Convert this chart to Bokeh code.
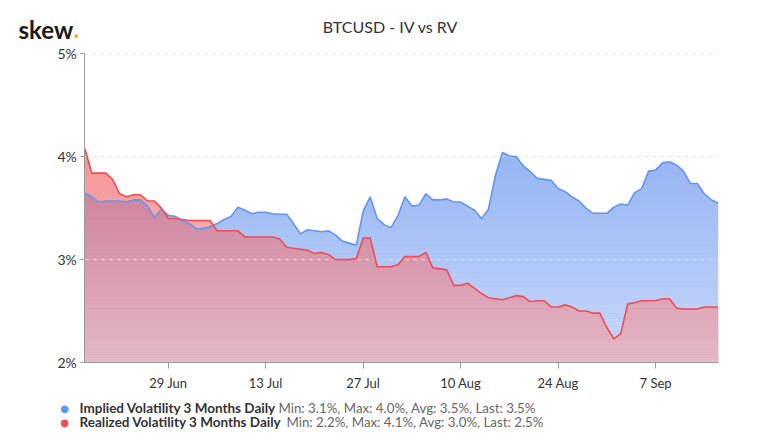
import numpy as np
import pandas as pd
from bokeh.plotting import figure
from bokeh.models import Range1d, FixedTicker, PrintfTickFormatter, Label
from bokeh.embed import file_html
from bokeh.resources import INLINE

# ---------------- data ----------------
dates = pd.date_range("2019-06-17", periods=92, freq="D")

iv = [3.645, 3.61, 3.56, 3.57, 3.57, 3.57, 3.56, 3.58, 3.58, 3.52,
      3.41, 3.49, 3.43, 3.42, 3.38, 3.35, 3.30, 3.30, 3.32, 3.35,
      3.39, 3.42, 3.51, 3.48, 3.445, 3.46, 3.46, 3.445, 3.44, 3.44,
      3.35, 3.25, 3.29, 3.28, 3.27, 3.28, 3.24, 3.18, 3.16, 3.14,
      3.47, 3.61, 3.40, 3.34, 3.31, 3.43, 3.61, 3.52, 3.53, 3.64,
      3.58, 3.58, 3.59, 3.56, 3.56, 3.52, 3.48, 3.40, 3.49, 3.82,
      4.04, 4.01, 4.00, 3.91, 3.855, 3.79, 3.78, 3.77, 3.69, 3.66,
      3.61, 3.57, 3.50, 3.45, 3.45, 3.45, 3.51, 3.54, 3.53, 3.65,
      3.69, 3.86, 3.87, 3.94, 3.95, 3.92, 3.86, 3.74, 3.74, 3.64,
      3.58, 3.55]

rv = [4.08, 3.84, 3.84, 3.84, 3.78, 3.64, 3.61, 3.63, 3.63, 3.57,
      3.57, 3.50, 3.40, 3.40, 3.39, 3.38, 3.38, 3.38, 3.38, 3.28,
      3.28, 3.28, 3.28, 3.22, 3.22, 3.22, 3.22, 3.22, 3.20, 3.12,
      3.11, 3.10, 3.09, 3.06, 3.07, 3.05, 3.00, 3.00, 3.00, 3.01,
      3.21, 3.21, 2.93, 2.93, 2.93, 2.95, 3.03, 3.03, 3.03, 3.07,
      2.92, 2.91, 2.90, 2.75, 2.75, 2.77, 2.72, 2.67, 2.63, 2.62,
      2.61, 2.63, 2.65, 2.64, 2.59, 2.60, 2.60, 2.54, 2.54, 2.56,
      2.54, 2.50, 2.50, 2.48, 2.48, 2.34, 2.23, 2.28, 2.57, 2.58,
      2.60, 2.60, 2.60, 2.62, 2.62, 2.53, 2.52, 2.52, 2.52, 2.54,
      2.54, 2.54]

tick_dates = ["2019-06-29", "2019-07-13", "2019-07-27", "2019-08-10", "2019-08-24", "2019-09-07"]
tick_labels = ["29 Jun", "13 Jul", "27 Jul", "10 Aug", "24 Aug", "7 Sep"]
y_ticks = [2, 3, 4, 5]

series_names = ["Implied Volatility 3 Months Daily", "Realized Volatility 3 Months Daily"]
series_stats = ["Min: 3.1%, Max: 4.0%, Avg: 3.5%, Last: 3.5%",
                "Min: 2.2%, Max: 4.1%, Avg: 3.0%, Last: 2.5%"]
title_text = "BTCUSD - IV vs RV"

# ---------------- layout / styles ----------------
W, H = 775, 433
PLOT_L, PLOT_R, PLOT_T, PLOT_B = 84.3, 717.7, 53.3, 362.0   # pixel box of the data area
FONT = "Lato"
BLUE_FILL = "#94b4f4"
BLUE_LINE = "#6495ed"
RED_FILL = "#ee4d50"
RED_LINE = "#f24b53"
AXIS_COL = "#999999"

y_lo, y_hi = min(y_ticks), max(y_ticks)
ms0 = pd.Timestamp(dates[0]).value / 1e6
ms1 = pd.Timestamp(dates[-1]).value / 1e6
ms_per_px = (ms1 - ms0) / (PLOT_R - PLOT_L)
val_per_px = (y_hi - y_lo) / (PLOT_B - PLOT_T)
x_range = Range1d(ms0 - PLOT_L * ms_per_px, ms1 + (W - PLOT_R) * ms_per_px)
y_range = Range1d(y_lo - (H - PLOT_B) * val_per_px, y_hi + PLOT_T * val_per_px)

p = figure(width=W, height=H, output_backend="svg", toolbar_location=None,
           x_axis_type="datetime", x_range=x_range, y_range=y_range,
           min_border=0, min_border_left=0, min_border_right=0,
           min_border_top=0, min_border_bottom=0)
p.title.visible = False
p.outline_line_color = None
p.background_fill_color = "white"
p.border_fill_color = "white"
p.xgrid.visible = False
p.ygrid.visible = False

# areas
p.varea(x=dates, y1=y_lo, y2=iv, fill_color=BLUE_FILL, fill_alpha=1.0)
p.varea(x=dates, y1=y_lo, y2=rv, fill_color=RED_FILL, fill_alpha=0.6)

# gradient wash (white, stronger toward the bottom)
band_lo = np.arange(2.0, 4.1, 0.025)
band_hi = band_lo + 0.025
band_alpha = 0.5 * (4.1 - (band_lo + 0.0125)) / 2.1
p.quad(left=dates[0], right=dates[-1], bottom=band_lo, top=band_hi,
       fill_color="white", fill_alpha=band_alpha, line_color=None)

# dashed horizontal grid lines
grid_levels = y_ticks[1:]
p.segment(x0=[dates[0]] * len(grid_levels), x1=[dates[-1]] * len(grid_levels),
          y0=grid_levels, y1=grid_levels, line_color="#e3e3e3", line_width=1,
          line_dash="4 4")

# lines
p.line(dates, iv, line_color=BLUE_LINE, line_width=1.6)
p.line(dates, rv, line_color=RED_LINE, line_width=1.6)

# axes, fixed at the edges of the data box
tick_ms = [pd.Timestamp(d).value / 1e6 for d in tick_dates]
xa = p.xaxis[0]
xa.fixed_location = y_lo
xa.bounds = (ms0, ms1)
xa.ticker = FixedTicker(ticks=tick_ms)
xa.major_label_overrides = {t: l for t, l in zip(tick_ms, tick_labels)}
xa.minor_tick_line_color = None
xa.major_tick_in = 0
xa.major_tick_out = 6
xa.axis_line_color = AXIS_COL
xa.major_tick_line_color = AXIS_COL
xa.major_label_text_font = FONT
xa.major_label_text_font_size = "13px"
xa.major_label_text_color = "#333333"
xa.major_label_standoff = 6

ya = p.yaxis[0]
ya.fixed_location = ms0
ya.bounds = (y_lo, y_hi)
ya.ticker = FixedTicker(ticks=y_ticks)
ya.formatter = PrintfTickFormatter(format="%d%%")
ya.minor_tick_line_color = None
ya.major_tick_in = 0
ya.major_tick_out = 4
ya.axis_line_color = AXIS_COL
ya.major_tick_line_color = AXIS_COL
ya.major_label_text_font = FONT
ya.major_label_text_font_size = "14px"
ya.major_label_text_color = "#333333"
ya.major_label_standoff = 4


def add_text(px, py, text, **kw):
    # px, py: pixel position from the top-left of the canvas
    p.add_layout(Label(x=px, y=H - py, x_units="screen", y_units="screen", text=text, **kw))


# title and logo
add_text(390, 26, title_text, text_font=FONT, text_font_size="16px", text_color="#333333",
         text_align="center", text_baseline="alphabetic")
add_text(18, 28.5, "skew", text_font=FONT, text_font_size="24px", text_font_style="bold",
         text_color="#1a1a1a", text_align="left", text_baseline="alphabetic")
add_text(73, 28.5, ".", text_font=FONT, text_font_size="24px", text_font_style="bold",
         text_color="#f5a623", text_align="left", text_baseline="alphabetic")

# legend rows
legend_rows = [(407, BLUE_LINE, 278), (421, RED_LINE, 286)]
for (py, col, sx), name, stats in zip(legend_rows, series_names, series_stats):
    add_text(64, py + 0.5, "\u25cf", text_font="DejaVu Sans", text_font_size="10px",
             text_color=col, text_align="center", text_baseline="middle")
    add_text(79, py, name, text_font=FONT, text_font_size="13.5px", text_font_style="bold",
             text_color="#333333", text_align="left", text_baseline="middle")
    add_text(sx, py, stats, text_font=FONT, text_font_size="13.3px", text_color="#666666",
             text_align="left", text_baseline="middle")

open("out.html", "w").write(file_html(p, INLINE))
